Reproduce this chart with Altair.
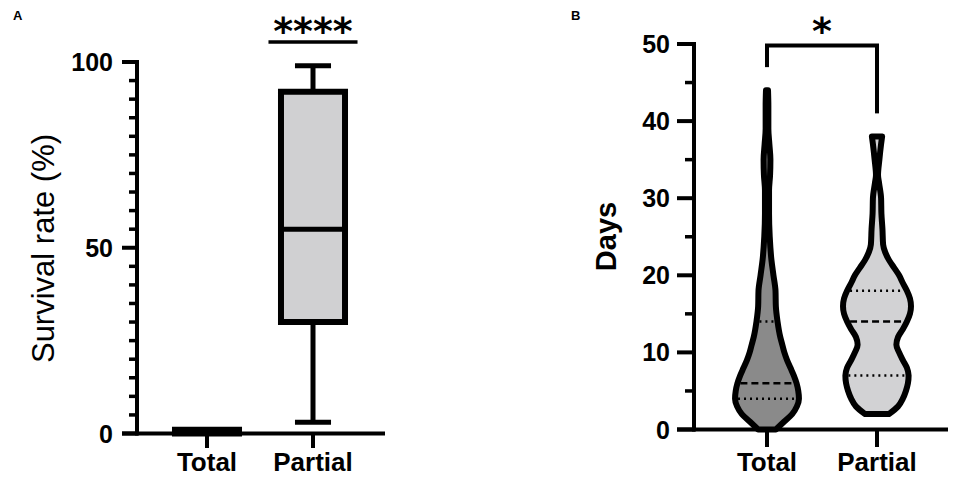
import altair as alt
import pandas as pd

# ---------------- data ----------------
groups = ["Total", "Partial"]
group_pos = [1, 2]

# Panel A: survival rate (%) box-and-whisker summary
surv_min = [0, 3]
surv_q1 = [0, 30]
surv_median = [0, 55]
surv_q3 = [1, 92]
surv_max = [1, 99]
surv_major_ticks = [0, 50, 100]
surv_minor_ticks = [5, 10, 15, 20, 25, 30, 35, 40, 45, 55, 60, 65, 70, 75, 80, 85, 90, 95]
surv_sig = "****"

# Panel B: days, violin outlines (relative width at each day value)
total_days = [0, 1, 2, 3, 4, 5, 6, 7, 8, 9, 10, 11, 12, 14, 16, 18, 20, 22, 25, 28, 31, 33, 35, 37, 39, 42, 44]
total_width = [0.26, 0.50, 0.74, 0.88, 0.94, 0.92, 0.87, 0.79, 0.69, 0.59, 0.51, 0.45, 0.39, 0.31, 0.26, 0.25,
               0.19, 0.13, 0.08, 0.06, 0.06, 0.09, 0.10, 0.07, 0.04, 0.04, 0.03]
partial_days = [2, 3, 4, 5, 6, 7, 8, 9, 10, 11, 12, 13, 14, 15, 16, 17, 18, 19, 20, 21, 22, 23, 24, 26, 28, 30,
                32, 33, 35, 37, 38]
partial_width = [0.35, 0.62, 0.76, 0.85, 0.91, 0.93, 0.88, 0.76, 0.65, 0.57, 0.62, 0.76, 0.88, 0.97, 1.00, 0.97,
                 0.88, 0.76, 0.65, 0.50, 0.35, 0.24, 0.18, 0.16, 0.13, 0.12, 0.06, 0.03, 0.07, 0.12, 0.15]
total_quartiles = [4, 6, 14]
total_quartile_width = [0.94, 0.87, 0.31]
partial_quartiles = [7, 14, 18]
partial_quartile_width = [0.93, 0.88, 0.88]
quartile_kind = ["quartile", "median", "quartile"]
days_major_ticks = [0, 10, 20, 30, 40, 50]
days_minor_ticks = [5, 15, 25, 35, 45]
days_sig = "*"

# ---------------- styles ----------------
FONT = "Liberation Sans"
SIG_FONT = "DejaVu Sans"
BLACK = "#000000"
BOX_FILL = "#d0d0d2"
VIOLIN_FILLS = ["#8a8a8a", "#d2d2d4"]
BOX_HW = 0.302
CAP_HW = 0.17
SIG_HW = 0.42
VIOLIN_HW = 0.309
LINE_INSET = 0.027
BRACKET_GAP = 3

xA = alt.Scale(domain=[1, 2], range=[199, 305], zero=False, nice=False)
yA = alt.Scale(domain=[0, 100], range=[425.5, 54], zero=False, nice=False)
xB = alt.Scale(domain=[1, 2], range=[759, 869], zero=False, nice=False)
yB = alt.Scale(domain=[0, 50], range=[421.5, 36], zero=False, nice=False)


def X(field, sc):
    return alt.X(field, scale=sc, axis=None)


def Y(field, sc):
    return alt.Y(field, scale=sc, axis=None)


# ---------------- panel A ----------------
dfA = pd.DataFrame({"group": groups, "pos": group_pos, "mn": surv_min, "q1": surv_q1,
                    "med": surv_median, "q3": surv_q3, "mx": surv_max})
dfA["bx1"] = dfA["pos"] - BOX_HW
dfA["bx2"] = dfA["pos"] + BOX_HW
dfA["cx1"] = dfA["pos"] - CAP_HW
dfA["cx2"] = dfA["pos"] + CAP_HW

axA = pd.DataFrame({"lo": [min(surv_major_ticks)], "hi": [max(surv_major_ticks)]})
majA = pd.DataFrame({"v": surv_major_ticks, "label": [str(v) for v in surv_major_ticks]})
minA = pd.DataFrame({"v": surv_minor_ticks})
sigA = pd.DataFrame({"pos": [2], "text": [surv_sig]})
sigA["x1"] = sigA["pos"] - SIG_HW
sigA["x2"] = sigA["pos"] + SIG_HW

A_layers = [
    alt.Chart(axA).mark_rule(color=BLACK, strokeWidth=4, strokeCap="square").encode(
        x=alt.value(129), y=Y("lo:Q", yA), y2="hi:Q"),
    alt.Chart(axA).mark_rule(color=BLACK, strokeWidth=4).encode(
        y=Y("lo:Q", yA), x=alt.value(114), x2=alt.value(377)),
    alt.Chart(majA).mark_rule(color=BLACK, strokeWidth=4).encode(
        y=Y("v:Q", yA), x=alt.value(114), x2=alt.value(130)),
    alt.Chart(minA).mark_rule(color=BLACK, strokeWidth=3.5).encode(
        y=Y("v:Q", yA), x=alt.value(121), x2=alt.value(130)),
    alt.Chart(majA).mark_text(font=FONT, fontSize=25, fontWeight="bold", align="right",
                              baseline="alphabetic", dy=9, color=BLACK).encode(
        y=Y("v:Q", yA), x=alt.value(105), text="label:N"),
    alt.Chart(dfA).mark_rule(color=BLACK, strokeWidth=4).encode(
        x=X("pos:Q", xA), y=alt.value(425.5), y2=alt.value(440)),
    alt.Chart(dfA).mark_text(font=FONT, fontSize=26, fontWeight="bold", align="center",
                             baseline="alphabetic", color=BLACK).encode(
        x=X("pos:Q", xA), y=alt.value(463), text="group:N"),
    # whiskers
    alt.Chart(dfA).mark_rule(color=BLACK, strokeWidth=5).encode(
        x=X("pos:Q", xA), y=Y("mn:Q", yA), y2="mx:Q"),
    alt.Chart(dfA).mark_rule(color=BLACK, strokeWidth=5).encode(
        x=X("cx1:Q", xA), x2="cx2:Q", y=Y("mn:Q", yA)),
    alt.Chart(dfA).mark_rule(color=BLACK, strokeWidth=5).encode(
        x=X("cx1:Q", xA), x2="cx2:Q", y=Y("mx:Q", yA)),
    # box
    alt.Chart(dfA).mark_rect(fill=BOX_FILL, stroke=BLACK, strokeWidth=6, strokeJoin="miter").encode(
        x=X("bx1:Q", xA), x2="bx2:Q", y=Y("q1:Q", yA), y2="q3:Q"),
    alt.Chart(dfA).mark_rule(color=BLACK, strokeWidth=5).encode(
        x=X("bx1:Q", xA), x2="bx2:Q", y=Y("med:Q", yA)),
    # significance
    alt.Chart(sigA).mark_rule(color=BLACK, strokeWidth=3.5).encode(
        x=X("x1:Q", xA), x2="x2:Q", y=alt.value(34)),
    alt.Chart(sigA).mark_text(font=SIG_FONT, fontSize=38, fontWeight="bold", align="center",
                              baseline="alphabetic", color=BLACK).encode(
        x=X("pos:Q", xA), y=alt.value(36), text="text:N"),
]
panelA = alt.layer(*A_layers)

# ---------------- panel B ----------------
def violin_df(g, p, ds, ws):
    return pd.DataFrame({"group": g, "days": ds,
                         "x1": [p - w * VIOLIN_HW for w in ws],
                         "x2": [p + w * VIOLIN_HW for w in ws]})


violin_total = violin_df("Total", 1, total_days, total_width)
violin_partial = violin_df("Partial", 2, partial_days, partial_width)

qrows = []
for g, p, qs, ws in [("Total", 1, total_quartiles, total_quartile_width),
                     ("Partial", 2, partial_quartiles, partial_quartile_width)]:
    for q, w, k in zip(qs, ws, quartile_kind):
        qrows.append({"group": g, "days": q, "kind": k,
                      "x1": p - w * VIOLIN_HW + LINE_INSET, "x2": p + w * VIOLIN_HW - LINE_INSET})
quart = pd.DataFrame(qrows)

axB = pd.DataFrame({"lo": [min(days_major_ticks)], "hi": [max(days_major_ticks)]})
majB = pd.DataFrame({"v": days_major_ticks, "label": [str(v) for v in days_major_ticks]})
minB = pd.DataFrame({"v": days_minor_ticks})
catB = pd.DataFrame({"group": groups, "pos": group_pos, "top": [max(total_days), max(partial_days)]})
catB["leg_end"] = catB["top"] + BRACKET_GAP
bracket_top = 49.8
brB = pd.DataFrame({"x1": [1], "x2": [2], "y": [bracket_top], "mid": [1.5], "text": [days_sig]})
catB["btop"] = bracket_top


def violin_layer(df, fill):
    return alt.Chart(df).mark_area(orient="horizontal", interpolate="monotone", stroke=BLACK,
                                   strokeWidth=6, strokeJoin="round", fill=fill,
                                   fillOpacity=1).encode(
        y=Y("days:Q", yB), x=X("x1:Q", xB), x2="x2:Q")


B_layers = [
    alt.Chart(axB).mark_rule(color=BLACK, strokeWidth=4, strokeCap="square").encode(
        x=alt.value(686), y=Y("lo:Q", yB), y2="hi:Q"),
    alt.Chart(axB).mark_rule(color=BLACK, strokeWidth=4).encode(
        y=Y("lo:Q", yB), x=alt.value(669), x2=alt.value(940)),
    alt.Chart(majB).mark_rule(color=BLACK, strokeWidth=4).encode(
        y=Y("v:Q", yB), x=alt.value(669), x2=alt.value(687)),
    alt.Chart(minB).mark_rule(color=BLACK, strokeWidth=3.5).encode(
        y=Y("v:Q", yB), x=alt.value(677), x2=alt.value(687)),
    alt.Chart(majB).mark_text(font=FONT, fontSize=25, fontWeight="bold", align="right",
                              baseline="alphabetic", dy=9, color=BLACK).encode(
        y=Y("v:Q", yB), x=alt.value(662), text="label:N"),
    alt.Chart(catB).mark_rule(color=BLACK, strokeWidth=4).encode(
        x=X("pos:Q", xB), y=alt.value(421.5), y2=alt.value(439)),
    alt.Chart(catB).mark_text(font=FONT, fontSize=26, fontWeight="bold", align="center",
                              baseline="alphabetic", color=BLACK).encode(
        x=X("pos:Q", xB), y=alt.value(463), text="group:N"),
    # violins
    violin_layer(violin_total, VIOLIN_FILLS[0]),
    violin_layer(violin_partial, VIOLIN_FILLS[1]),
    alt.Chart(quart).mark_rule(color=BLACK, strokeWidth=2.5).encode(
        y=Y("days:Q", yB), x=X("x1:Q", xB), x2="x2:Q",
        strokeDash=alt.StrokeDash("kind:N", scale=alt.Scale(domain=["median", "quartile"],
                                                             range=[[7, 4], [2, 4]]), legend=None)),
    # bracket
    alt.Chart(brB).mark_rule(color=BLACK, strokeWidth=4, strokeCap="square").encode(
        x=X("x1:Q", xB), x2="x2:Q", y=Y("y:Q", yB)),
    alt.Chart(catB).mark_rule(color=BLACK, strokeWidth=4).encode(
        x=X("pos:Q", xB), y=Y("btop:Q", yB), y2="leg_end:Q"),
    alt.Chart(brB).mark_text(font=SIG_FONT, fontSize=38, fontWeight="bold", align="center",
                             baseline="alphabetic", color=BLACK).encode(
        x=X("mid:Q", xB), y=alt.value(36), text="text:N"),
]
panelB = alt.layer(*B_layers)

# ---------------- titles / panel letters ----------------
titleA = alt.Chart(pd.DataFrame({"t": ["Survival rate (%)"]})).mark_text(
    font=FONT, fontSize=31, fontWeight="normal", angle=270, align="center",
    baseline="alphabetic", color=BLACK).encode(x=alt.value(45.5), y=alt.value(240.5), text="t:N")
titleB = alt.Chart(pd.DataFrame({"t": ["Days"]})).mark_text(
    font=FONT, fontSize=29, fontWeight="bold", angle=270, align="center",
    baseline="alphabetic", color=BLACK).encode(x=alt.value(608), y=alt.value(228.5), text="t:N")
letters = alt.Chart(pd.DataFrame({"t": ["A", "B"], "px": [5, 563]})).mark_text(
    font=FONT, fontSize=13, fontWeight="bold", align="left", baseline="alphabetic",
    color=BLACK).encode(x=alt.X("px:Q", scale=alt.Scale(domain=[0, 941], range=[0, 941]), axis=None),
                        y=alt.value(12), text="t:N")

chart = alt.layer(panelA, panelB, alt.layer(titleA, titleB, letters)).resolve_scale(
    x="independent", y="independent"
).properties(
    width=941, height=468, padding=0,
    autosize=alt.AutoSizeParams(type="none"),
).configure_view(stroke=None)

chart.save("out.html", embed_options={"renderer": "svg", "actions": False})
